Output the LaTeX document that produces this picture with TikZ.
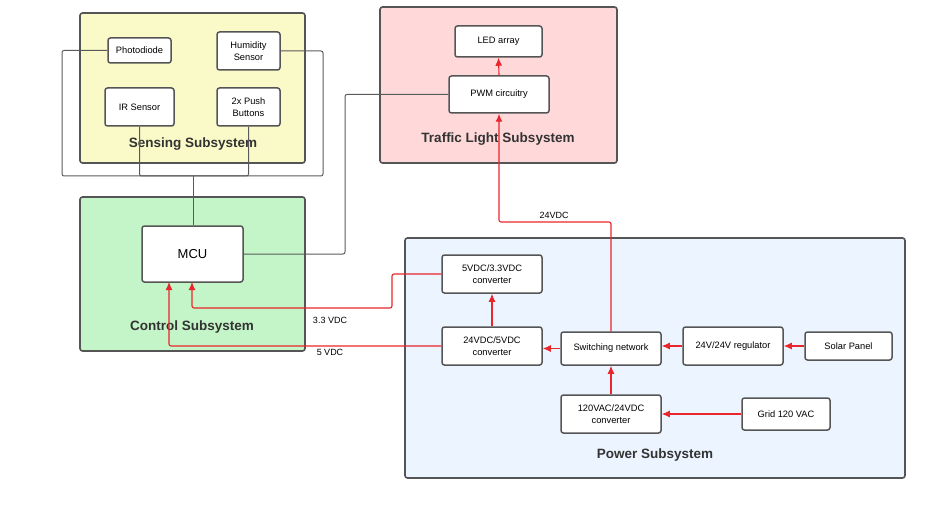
\documentclass[tikz,border=0pt]{standalone}
\usepackage{fontspec}
\setmainfont{Liberation Sans}
\usetikzlibrary{arrows.meta}
\definecolor{boxline}{HTML}{555555}
\definecolor{wire}{HTML}{5A5A5A}
\definecolor{pwr}{HTML}{E8262B}
\definecolor{senseF}{HTML}{FAF9C8}
\definecolor{trafF}{HTML}{FFD9DA}
\definecolor{ctrlF}{HTML}{C3F5C8}
\definecolor{powF}{HTML}{EBF4FF}
\tikzset{
  sub/.style={draw=boxline, line width=1.6pt, rounded corners=2.5pt},
  blk/.style={draw=boxline, fill=white, line width=1.5pt, rounded corners=2.5pt, align=center, font=\fontsize{9.3}{12}\selectfont, inner sep=0pt},
  ttl/.style={font=\fontsize{13.5}{15}\selectfont\bfseries, text=black!80},
  sig/.style={draw=wire, line width=1pt, rounded corners=2pt},
  pw/.style={draw=pwr, line width=1.1pt, rounded corners=2pt, -{Latex[length=8pt,width=7pt]}},
  lbl/.style={font=\fontsize{9}{10}\selectfont}
}
\begin{document}
\begin{tikzpicture}[x=1pt,y=-1pt]
\useasboundingbox (0,0) rectangle (944,505);
% subsystems
\draw[sub, fill=senseF] (80,13) rectangle (305,163);
\draw[sub, fill=trafF] (380,7) rectangle (617,163);
\draw[sub, fill=ctrlF] (80,197) rectangle (305,351);
\draw[sub, fill=powF] (405,238) rectangle (905,478);
\node[ttl] (tS) at (193,144.5) {Sensing Subsystem};
\node[ttl] (tT) at (498,139.5) {Traffic Light Subsystem};
\node[ttl] (tC) at (192,327.5) {Control Subsystem};
\node[ttl] (tP) at (655,455.5) {Power Subsystem};
% blocks
\node[blk, minimum width=63, minimum height=25] (pd) at (139.5,50.5) {Photodiode};
\node[blk, minimum width=63, minimum height=38] (hum) at (248.5,51) {Humidity\\Sensor};
\node[blk, minimum width=69, minimum height=38] (ir) at (139.5,107) {IR Sensor};
\node[blk, minimum width=63, minimum height=38] (pb) at (248.5,107) {2x Push\\Buttons};
\node[blk, minimum width=87, minimum height=31] (led) at (498.5,41.5) {LED array};
\node[blk, minimum width=100, minimum height=37] (pwm) at (499,94.5) {PWM circuitry};
\node[blk, minimum width=101, minimum height=56, font=\fontsize{13}{15}\selectfont] (mcu) at (192.5,254) {MCU};
\node[blk, minimum width=100, minimum height=38] (c53) at (492,274) {5VDC/3.3VDC\\converter};
\node[blk, minimum width=100, minimum height=38] (c245) at (492,346) {24VDC/5VDC\\converter};
\node[blk, minimum width=100, minimum height=33] (sw) at (611,348.5) {Switching network};
\node[blk, minimum width=100, minimum height=38] (reg) at (733,346) {24V/24V regulator};
\node[blk, minimum width=87, minimum height=28] (sol) at (848.5,346) {Solar Panel};
\node[blk, minimum width=100, minimum height=38] (c120) at (611,414) {120VAC/24VDC\\converter};
\node[blk, minimum width=88, minimum height=32] (grid) at (786,414) {Grid 120 VAC};
% signal wires
\coordinate (j) at (193,176);
\draw[sig] (pd.west) -| (62,176) -- (j);
\draw[sig] (hum.east) -| (323,176) -- (j);
\draw[sig] (ir.south) |- (j);
\draw[sig] (pb.south) |- (j);
\draw[sig] (j) -- (mcu.north -| j);
\draw[sig] (mcu.east) -| (345,94.5) -- (pwm.west);
% power wires
\draw[pw] (sol.west) -- (reg.east);
\draw[pw] (reg.west) -- (sw.east |- reg.west);
\draw[pw] (sw.west) -- (c245.east |- sw.west);
\draw[pw] (c120.north) -- (sw.south);
\draw[pw] (grid.west) -- (c120.east);
\draw[pw] (c245.north) -- (c53.south);
\draw[pw] (sw.north) |- (499,222) -- (pwm.south -| 499,0);
\draw[pw] (pwm.north) -- (led.south);
\draw[pw] (c53.west) -| (392,308) -| (192,282);
\draw[pw] (c245.west) -| (169,282);
% labels
\node[lbl] (l24) at (554,215) {24VDC};
\node[lbl] (l33) at (330,320) {3.3 VDC};
\node[lbl] (l5) at (330,352) {5 VDC};
\end{tikzpicture}
\end{document}
